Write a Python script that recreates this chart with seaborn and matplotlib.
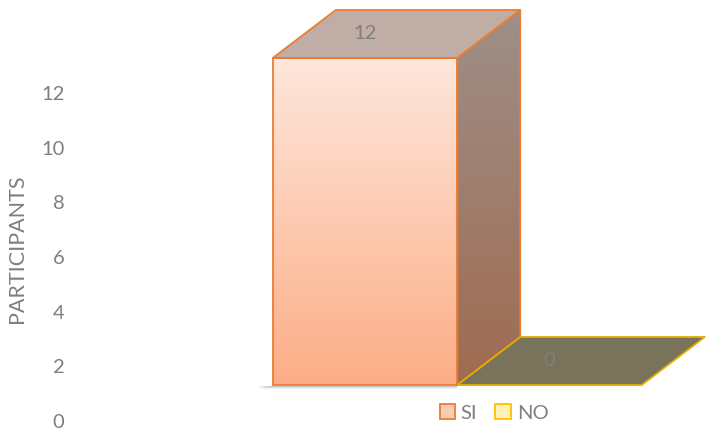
import numpy as np
import matplotlib
matplotlib.use("Agg")
import matplotlib.pyplot as plt
import seaborn as sns
from matplotlib.patches import Polygon, Patch
from matplotlib.colors import LinearSegmentedColormap

# ---- data ----
categories = ["SI", "NO"]
values = [12, 0]
tick_values = [0, 2, 4, 6, 8, 10, 12]
y_label = "PARTICIPANTS"

# ---- style ----
sns.set_theme(style="white")
plt.rcParams['font.family'] = ['Lato', 'DejaVu Sans']

W, H = 708, 430
fig = plt.figure(figsize=(W / 100, H / 100), dpi=100)
TXT = '#7f7f7f'
FS = 14.5

# label axes (value axis of the 3D chart, drawn on the back wall)
lab_left = 70
ax2 = fig.add_axes([lab_left / W, 0, (W - lab_left) / W, 1])
y0_px, y12_px = 421, 93
ppu_lab = (y0_px - y12_px) / 12
ax2.set_ylim(-(H - y0_px) / ppu_lab, y0_px / ppu_lab)
ax2.set_yticks(tick_values)
ax2.set_yticklabels([str(v) for v in tick_values])
ax2.tick_params(axis='y', length=0, pad=4, labelsize=FS, labelcolor=TXT)
ax2.set_xticks([])
for s in ax2.spines.values():
    s.set_visible(False)
ax2.set_ylabel(y_label, fontsize=15.5, color=TXT)
ax2.yaxis.set_label_coords((27 - lab_left) / (W - lab_left), 1 - 249 / H)
ax2.patch.set_visible(False)

# main axes for bars
ax = fig.add_axes([0, 0, 1, 1])
ax.patch.set_visible(False)
face_cols = {"SI": "#FDC7AC", "NO": "#FFF2B8"}
edge_cols = {"SI": "#ED7D31", "NO": "#E2AE00"}
top_cols = {"SI": "#C0ADA5", "NO": "#78735A"}

sns.barplot(x=categories, y=values, hue=categories, palette=face_cols,
            width=1.0, legend=False, ax=ax, linewidth=0)

sx = 184.5            # px per category
cx0 = 365             # pixel x of first category
sy = (385 - 58) / 12  # px per unit
ax.set_xlim(-cx0 / sx, (W - cx0) / sx)
ax.set_ylim(-(H - 385) / sy, 385 / sy)
ax.axis('off')

ddx = 63 / sx
ddy = 48 / sy

front_cmap = LinearSegmentedColormap.from_list("front", ["#FCAD86", "#FEE7DC"])
side_cmap = LinearSegmentedColormap.from_list("side", ["#A06B50", "#9E8F89"])
grad = np.linspace(0, 1, 256).reshape(-1, 1)

for patch, cat, val in zip(ax.patches, categories, values):
    x0, w, h = patch.get_x(), patch.get_width(), patch.get_height()
    ec = edge_cols[cat]
    # shadow on floor
    if h > 0:
        for i, a in enumerate([0.10, 0.18, 0.28]):
            ax.add_patch(Polygon([(x0 - 0.085 + i * 0.02, -0.02), (x0 + w, -0.02),
                                  (x0 + w, -0.16 + i * 0.04), (x0 - 0.06 + i * 0.02, -0.16 + i * 0.04)],
                                 closed=True, facecolor='#888888', edgecolor='none',
                                 alpha=a, zorder=0.5))
    # top face
    top = Polygon([(x0, h), (x0 + w, h), (x0 + w + ddx, h + ddy), (x0 + ddx, h + ddy)],
                  closed=True, facecolor=top_cols[cat], edgecolor=ec, linewidth=1.3,
                  zorder=2, joinstyle='round')
    ax.add_patch(top)
    if h > 0:
        # side face with gradient
        side = Polygon([(x0 + w, 0), (x0 + w, h), (x0 + w + ddx, h + ddy), (x0 + w + ddx, ddy)],
                       closed=True, facecolor='none', edgecolor=ec, linewidth=1.3, zorder=2)
        ax.add_patch(side)
        im = ax.imshow(grad, cmap=side_cmap, origin='lower', aspect='auto',
                       extent=(x0 + w, x0 + w + ddx, 0, h + ddy), zorder=1.5)
        im.set_clip_path(side)
        # front face gradient
        im2 = ax.imshow(grad, cmap=front_cmap, origin='lower', aspect='auto',
                        extent=(x0, x0 + w, 0, h), zorder=1.5)
        im2.set_clip_path(patch)
        patch.set_facecolor('none')
        patch.set_edgecolor(ec)
        patch.set_linewidth(1.3)
        patch.set_zorder(2.2)
    # data label
    ax.annotate(str(val), xy=(x0 + w / 2, h), xytext=(0, 24 * 72 / 100),
                textcoords='offset points', ha='center', va='center',
                fontsize=FS, color=TXT, zorder=3)

ax.set_xlim(-cx0 / sx, (W - cx0) / sx)
ax.set_ylim(-(H - 385) / sy, 385 / sy)

handles = [Patch(facecolor="#FCCBB3", edgecolor=edge_cols["SI"], linewidth=1.3),
           Patch(facecolor="#FFF2B8", edgecolor="#FFC000", linewidth=1.3)]
fig.legend(handles=handles, labels=categories, loc='center',
           bbox_to_anchor=(494 / W, 1 - 413 / H), ncol=2, frameon=False,
           handlelength=0.75, handleheight=0.75, handletextpad=0.3,
           columnspacing=0.9, fontsize=FS, labelcolor=TXT)

fig.savefig('out.png', dpi=100)
